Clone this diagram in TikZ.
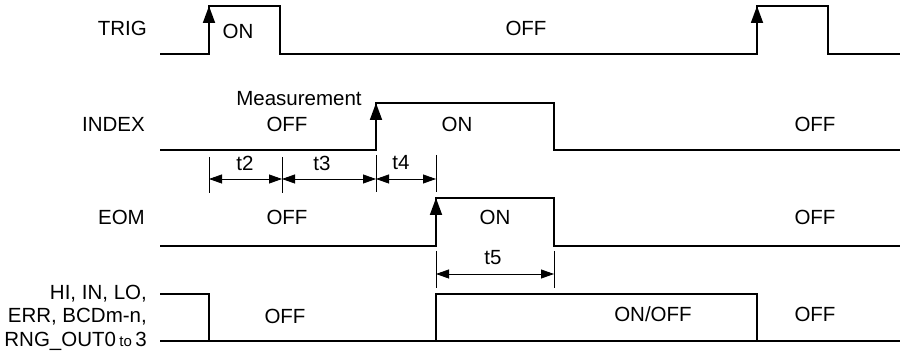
\documentclass[tikz,border=0pt]{standalone}
\usepackage{fontspec}
\setmainfont{Liberation Sans}
\usetikzlibrary{arrows.meta, positioning}

\begin{document}
\begin{tikzpicture}[x=1pt, y=-1pt,
    wave/.style={line width=1.8pt},
    rise/.style={line width=1.8pt, -{Triangle[length=17pt, width=12pt]}},
    dimline/.style={line width=0.8pt, {Triangle[length=13pt, width=9pt]}-{Triangle[length=13pt, width=9pt]}},
    dimtick/.style={line width=0.8pt},
    txt/.style={font=\fontsize{20.5}{23.5}\selectfont, inner sep=0pt},
    signame/.style={txt, anchor=east, align=right}]

    \useasboundingbox (0,0) rectangle (900,352);

    % signal names
    \node[signame] (trig) at (147,28) {TRIG};
    \node[signame] (index) at (145,124) {INDEX};
    \node[signame] (eom) at (145,217) {EOM};
    \node[signame] (judge) at (147,317.5) {HI, IN, LO,\\ERR, BCDm-n,\\RNG\_OUT0\,{\fontsize{15}{15}\selectfont to}\,3};

    % waveforms
    \draw[wave] (160,54) -- (209,54) -- (209,6) -- (280,6) -- (280,54) -- (757,54) -- (757,6) -- (828,6) -- (828,54) -- (900,54);
    \draw[rise] (209,54) -- (209,6);
    \draw[rise] (757,54) -- (757,6);

    \draw[wave] (160,150) -- (376,150) -- (376,103) -- (554,103) -- (554,150) -- (900,150);
    \draw[rise] (376,150) -- (376,103);

    \draw[wave] (160,246) -- (436,246) -- (436,198) -- (554,198) -- (554,246) -- (900,246);
    \draw[rise] (436,246) -- (436,198);

    \draw[wave] (160,294) -- (209,294) -- (209,341);
    \draw[wave] (160,341) -- (900,341);
    \draw[wave] (436,341) -- (436,294) -- (757,294) -- (757,341);

    % timing marks
    \foreach \x/\ya/\yb in {209/157/193, 282/157/193, 376/155/192, 436/155/192, 436/251/288, 554/251/288}
        \draw[dimtick] (\x,\ya) -- (\x,\yb);
    \foreach \lab/\xa/\xb/\xl/\y in {t2/209/282/245/179, t3/282/376/322/179, t4/376/436/401/179, t5/436/554/493/274} {
        \draw[dimline] (\xa,\y) -- (\xb,\y);
        \node[txt] (\lab) at (\xl,\y-16) {\lab};
    }

    % states
    \node[txt] (trigon) at (238,31) {ON};
    \node[txt] (trigoff) at (526,28) {OFF};
    \node[txt] (meas) at (299,99) {Measurement};
    \node[txt] (indexoff) at (287,124) {OFF};
    \node[txt] (indexon) at (457,124) {ON};
    \node[txt] (indexoff2) at (815,124) {OFF};
    \node[txt] (eomoff) at (287,217) {OFF};
    \node[txt] (eomon) at (495,217) {ON};
    \node[txt] (eomoff2) at (815,217) {OFF};
    \node[txt] (judgeoff) at (285,316) {OFF};
    \node[txt] (judgeonoff) at (653,314) {ON/OFF};
    \node[txt] (judgeoff2) at (815,314) {OFF};
\end{tikzpicture}
\end{document}
